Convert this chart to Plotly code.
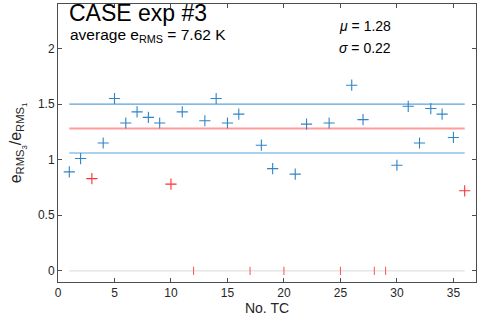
import plotly.graph_objects as go

# data
tc_ok = [1, 2, 4, 5, 6, 7, 8, 9, 11, 13, 14, 15, 16, 18, 19, 21, 22, 24, 26, 27, 30, 31, 32, 33, 34, 35]
ratio_ok = [0.89, 1.01, 1.15, 1.55, 1.33, 1.43, 1.38, 1.33, 1.43, 1.35, 1.55, 1.33, 1.41, 1.13, 0.92, 0.87,
            1.32, 1.33, 1.67, 1.36, 0.95, 1.48, 1.15, 1.46, 1.41, 1.20]
tc_low = [3, 10, 36]
ratio_low = [0.83, 0.78, 0.72]
tc_fail = [12, 17, 20, 25, 28, 29]
mu = 1.28
sigma = 0.22
tc_span = [1, 36]
x_ticks = [0, 5, 10, 15, 20, 25, 30, 35]
y_ticks = [0, 0.5, 1, 1.5, 2]

BLUE = "#2f84c8"
LBLUE = "#5aa3dc"
RED = "#ff3030"
TXT = "#262626"
FONT = "Liberation Sans"

fig = go.Figure()

# zero baseline
fig.add_trace(go.Scatter(x=tc_span, y=[0, 0], mode="lines",
                         line=dict(color="#d9d9d9", width=1), hoverinfo="skip"))
# failed TCs as red ticks at zero
fx, fy = [], []
for t in tc_fail:
    fx += [t, t, None]
    fy += [-0.037, 0.037, None]
fig.add_trace(go.Scatter(x=fx, y=fy, mode="lines", line=dict(color="#ff5050", width=1)))

# mean and +/- sigma lines
fig.add_trace(go.Scatter(x=tc_span, y=[mu, mu], mode="lines", line=dict(color="#ff9c9c", width=2)))
fig.add_trace(go.Scatter(x=tc_span, y=[mu + sigma, mu + sigma], mode="lines", line=dict(color=LBLUE, width=1.2)))
fig.add_trace(go.Scatter(x=tc_span, y=[mu - sigma, mu - sigma], mode="lines", line=dict(color=LBLUE, width=1.2)))

# points
fig.add_trace(go.Scatter(x=tc_ok, y=ratio_ok, mode="markers", cliponaxis=False,
                         marker=dict(symbol="cross-thin", size=8, line=dict(color=BLUE, width=1.1))))
fig.add_trace(go.Scatter(x=tc_low, y=ratio_low, mode="markers", cliponaxis=False,
                         marker=dict(symbol="cross-thin", size=8, line=dict(color=RED, width=1.1))))

axis_common = dict(showgrid=False, zeroline=False, showline=True, linecolor="#4d4d4d", linewidth=1,
                   mirror="ticks", ticks="inside", ticklen=4, tickcolor="#4d4d4d", automargin=False,
                   tickfont=dict(family=FONT, size=12, color=TXT))

fig.update_layout(
    width=480, height=322,
    margin=dict(l=58, r=4, t=4, b=40),
    paper_bgcolor="white", plot_bgcolor="white",
    showlegend=False,
    font=dict(family=FONT, color=TXT),
    xaxis=dict(range=[0, 37], tickvals=x_ticks,
               title=dict(text="No. TC", font=dict(family=FONT, size=14, color=TXT), standoff=2),
               **axis_common),
    yaxis=dict(range=[-0.1, 2.4], tickvals=y_ticks, ticktext=["0", "0.5", "1", "1.5", "2"],
               title=dict(text="e<sub>RMS<sub>3</sub></sub>/e<sub>RMS<sub>1</sub></sub>",
                          font=dict(family=FONT, size=16, color=TXT), standoff=12),
               **axis_common),
    annotations=[
        dict(text="CASE exp #3", xref="paper", yref="paper", x=0.022, y=0.966,
             xanchor="left", yanchor="middle", showarrow=False,
             font=dict(family=FONT, size=23, color="black")),
        dict(text="average e<sub>RMS</sub> = 7.62 K", xref="paper", yref="paper", x=0.024, y=0.888,
             xanchor="left", yanchor="middle", showarrow=False,
             font=dict(family=FONT, size=15.5, color="black")),
        dict(text="<i>μ</i> = 1.28", xref="paper", yref="paper", x=0.668, y=0.92,
             xanchor="left", yanchor="middle", showarrow=False,
             font=dict(family=FONT, size=14, color="black")),
        dict(text="<i>σ</i> = 0.22", xref="paper", yref="paper", x=0.668, y=0.84,
             xanchor="left", yanchor="middle", showarrow=False,
             font=dict(family=FONT, size=14, color="black")),
    ],
)

fig.write_html("out.html", config={"displayModeBar": False},
               post_script="document.body.style.margin='0';document.body.style.overflow='hidden';")
